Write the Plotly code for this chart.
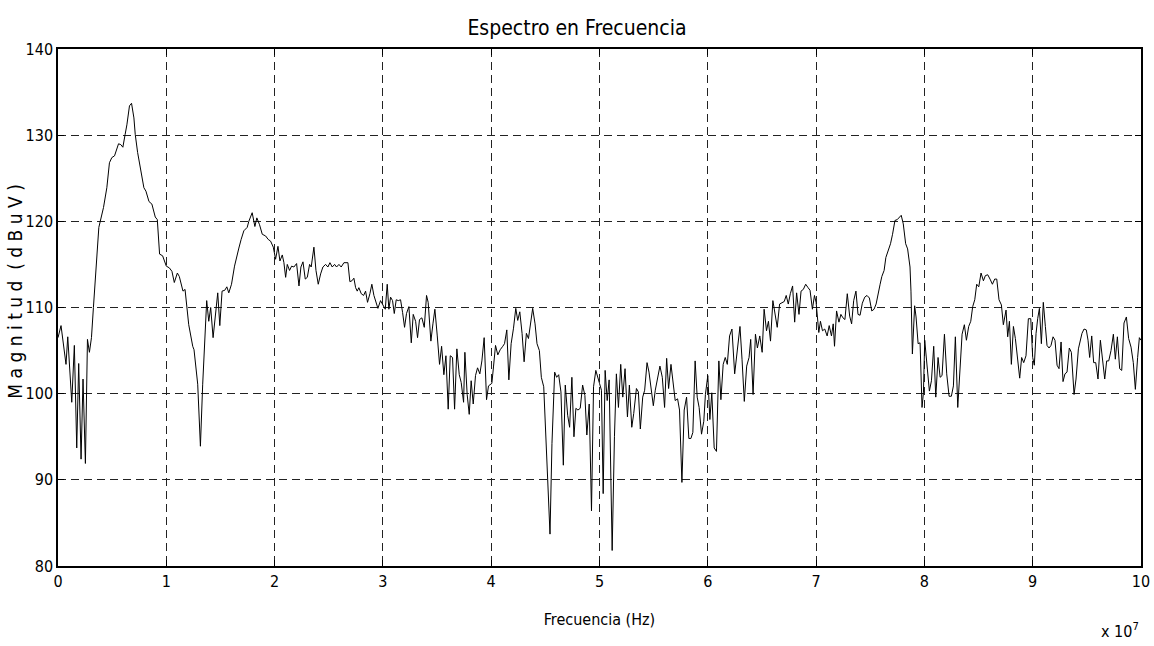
import plotly.graph_objects as go

# Frequency axis in units of 1e7 Hz, magnitude in dBuV
freq = [
    0.000, 0.028, 0.074, 0.090, 0.127, 0.151, 0.173, 0.191, 0.213, 0.231, 0.253, 0.272, 0.290, 0.309,
    0.327, 0.358, 0.377, 0.420, 0.451, 0.475, 0.497, 0.522, 0.537, 0.559, 0.580, 0.599, 0.620, 0.636,
    0.660, 0.679, 0.701, 0.713, 0.735, 0.756, 0.775, 0.793, 0.812, 0.840, 0.867, 0.898, 0.917, 0.938,
    0.966, 1.000, 1.028, 1.052, 1.074, 1.102, 1.120, 1.154, 1.173, 1.207, 1.244, 1.256, 1.290, 1.315,
    1.336, 1.373, 1.392, 1.410, 1.432, 1.454, 1.475, 1.494, 1.515, 1.540, 1.559, 1.577, 1.602, 1.630,
    1.654, 1.670, 1.691, 1.716, 1.747, 1.762, 1.793, 1.818, 1.836, 1.861, 1.886, 1.917, 1.941, 1.963,
    1.988, 2.009, 2.031, 2.049, 2.071, 2.086, 2.102, 2.117, 2.138, 2.157, 2.178, 2.203, 2.225, 2.243,
    2.262, 2.283, 2.302, 2.323, 2.338, 2.363, 2.382, 2.403, 2.425, 2.446, 2.471, 2.492, 2.511, 2.532,
    2.554, 2.572, 2.594, 2.615, 2.640, 2.677, 2.695, 2.714, 2.732, 2.748, 2.763, 2.778, 2.800, 2.822,
    2.840, 2.858, 2.880, 2.898, 2.917, 2.935, 2.954, 2.978, 2.997, 3.022, 3.040, 3.055, 3.071, 3.089,
    3.105, 3.123, 3.142, 3.163, 3.182, 3.200, 3.218, 3.240, 3.262, 3.280, 3.302, 3.320, 3.338, 3.360,
    3.382, 3.403, 3.418, 3.443, 3.462, 3.480, 3.502, 3.523, 3.542, 3.563, 3.582, 3.603, 3.622, 3.643,
    3.662, 3.683, 3.705, 3.723, 3.745, 3.757, 3.778, 3.797, 3.815, 3.834, 3.855, 3.874, 3.895, 3.914,
    3.935, 3.957, 3.975, 3.994, 4.006, 4.021, 4.040, 4.061, 4.083, 4.107, 4.123, 4.144, 4.163, 4.184,
    4.206, 4.227, 4.245, 4.264, 4.285, 4.304, 4.325, 4.344, 4.365, 4.383, 4.405, 4.423, 4.445, 4.463,
    4.485, 4.506, 4.543, 4.561, 4.586, 4.604, 4.623, 4.644, 4.666, 4.684, 4.706, 4.724, 4.745, 4.764,
    4.782, 4.801, 4.822, 4.844, 4.865, 4.883, 4.905, 4.926, 4.945, 4.966, 4.985, 5.000, 5.018, 5.034,
    5.052, 5.071, 5.089, 5.117, 5.138, 5.156, 5.175, 5.196, 5.215, 5.236, 5.258, 5.276, 5.298, 5.316,
    5.341, 5.359, 5.377, 5.399, 5.417, 5.439, 5.457, 5.475, 5.497, 5.515, 5.537, 5.558, 5.580, 5.601,
    5.620, 5.638, 5.660, 5.681, 5.699, 5.721, 5.739, 5.761, 5.782, 5.804, 5.825, 5.844, 5.862, 5.883,
    5.902, 5.920, 5.942, 5.963, 5.978, 6.000, 6.019, 6.037, 6.059, 6.080, 6.102, 6.121, 6.142, 6.161,
    6.180, 6.201, 6.223, 6.248, 6.272, 6.297, 6.316, 6.337, 6.359, 6.381, 6.396, 6.418, 6.440, 6.458,
    6.480, 6.502, 6.520, 6.542, 6.560, 6.579, 6.601, 6.619, 6.641, 6.663, 6.684, 6.706, 6.724, 6.743,
    6.762, 6.783, 6.802, 6.820, 6.842, 6.861, 6.882, 6.904, 6.926, 6.944, 6.966, 6.985, 7.000, 7.015,
    7.025, 7.040, 7.059, 7.080, 7.102, 7.121, 7.142, 7.158, 7.170, 7.189, 7.211, 7.229, 7.248, 7.266,
    7.288, 7.310, 7.328, 7.347, 7.368, 7.387, 7.406, 7.427, 7.449, 7.470, 7.492, 7.514, 7.535, 7.554,
    7.573, 7.591, 7.607, 7.628, 7.644, 7.666, 7.687, 7.706, 7.728, 7.749, 7.768, 7.786, 7.805, 7.827,
    7.845, 7.867, 7.876, 7.889, 7.910, 7.923, 7.942, 7.960, 7.978, 7.991, 8.003, 8.025, 8.046, 8.065,
    8.086, 8.105, 8.126, 8.145, 8.163, 8.185, 8.206, 8.228, 8.249, 8.268, 8.286, 8.308, 8.326, 8.348,
    8.369, 8.388, 8.409, 8.428, 8.446, 8.465, 8.483, 8.502, 8.523, 8.545, 8.563, 8.585, 8.606, 8.628,
    8.649, 8.668, 8.689, 8.711, 8.729, 8.754, 8.769, 8.785, 8.803, 8.822, 8.840, 8.858, 8.880, 8.898,
    8.917, 8.938, 8.960, 8.982, 9.000, 9.015, 9.031, 9.046, 9.062, 9.080, 9.098, 9.117, 9.132, 9.151,
    9.169, 9.188, 9.206, 9.225, 9.243, 9.262, 9.280, 9.298, 9.317, 9.338, 9.357, 9.382, 9.400, 9.422,
    9.437, 9.455, 9.474, 9.495, 9.511, 9.526, 9.545, 9.563, 9.582, 9.603, 9.625, 9.646, 9.665, 9.683,
    9.702, 9.723, 9.745, 9.763, 9.782, 9.803, 9.822, 9.843, 9.865, 9.886, 9.908, 9.929, 9.948, 9.969,
    9.985, 10.000,
]

magnitude = [
    106.5, 107.9, 103.4, 106.6, 99.0, 105.6, 93.7, 103.5, 92.4, 101.7, 91.9, 106.3, 104.8, 106.5,
    110.0, 116.5, 119.3, 121.6, 123.9, 126.8, 127.4, 127.6, 128.1, 129.0, 128.9, 128.6, 130.1, 131.2,
    133.4, 133.7, 132.0, 130.1, 128.0, 126.6, 125.1, 123.9, 123.5, 122.3, 122.0, 120.5, 120.2, 116.2,
    116.0, 114.8, 114.6, 114.2, 112.9, 114.0, 113.6, 111.9, 112.1, 108.0, 105.5, 105.1, 101.1, 93.9,
    101.1, 110.8, 108.4, 110.0, 106.5, 109.6, 111.7, 107.9, 111.9, 112.0, 112.4, 111.7, 112.7, 114.8,
    116.2, 116.9, 117.9, 118.9, 119.3, 120.0, 121.0, 119.4, 120.4, 119.6, 118.5, 118.3, 117.9, 117.7,
    117.0, 115.6, 117.1, 115.4, 116.1, 115.2, 113.5, 115.0, 114.3, 114.8, 114.7, 115.1, 112.5, 114.7,
    115.3, 113.3, 113.5, 115.0, 114.7, 117.0, 114.3, 112.7, 113.9, 114.7, 115.0, 114.7, 115.2, 114.7,
    115.0, 114.7, 115.0, 114.7, 115.2, 115.2, 113.0, 113.1, 113.4, 112.3, 111.9, 112.3, 111.6, 111.4,
    111.9, 110.6, 111.6, 112.7, 111.4, 110.6, 109.9, 110.8, 110.4, 109.8, 112.7, 109.8, 111.2, 110.8,
    109.3, 110.9, 110.8, 110.9, 109.4, 107.7, 109.3, 110.1, 105.9, 109.2, 108.4, 106.5, 108.6, 108.8,
    107.7, 111.4, 110.6, 106.1, 108.1, 109.8, 106.7, 103.4, 105.5, 102.2, 104.4, 98.2, 104.4, 104.2,
    98.2, 105.2, 102.2, 101.3, 99.0, 104.8, 99.9, 97.6, 101.5, 98.8, 102.1, 103.0, 102.3, 103.8,
    106.5, 99.3, 100.9, 101.1, 101.2, 103.1, 105.6, 104.5, 105.1, 105.5, 105.8, 107.4, 101.6, 105.8,
    107.6, 109.9, 108.5, 109.5, 107.0, 103.7, 107.0, 106.4, 108.5, 109.9, 108.1, 105.8, 105.0, 101.9,
    100.8, 94.6, 83.7, 94.2, 102.5, 101.9, 102.2, 100.2, 91.7, 101.0, 97.5, 96.1, 101.9, 95.0,
    98.3, 98.1, 98.3, 101.0, 99.8, 95.2, 98.8, 86.4, 100.8, 102.7, 102.0, 101.2, 100.4, 88.4,
    102.7, 99.2, 101.6, 81.8, 95.0, 102.3, 98.4, 103.4, 99.6, 102.9, 97.3, 101.0, 96.1, 97.7,
    100.6, 100.2, 95.9, 99.6, 100.4, 103.6, 102.5, 100.4, 98.6, 100.4, 101.9, 103.2, 101.9, 98.4,
    104.1, 100.6, 103.4, 101.0, 99.2, 99.4, 98.1, 89.7, 98.1, 99.6, 94.8, 94.8, 95.5, 103.8,
    99.6, 98.4, 95.3, 96.8, 99.9, 102.1, 97.0, 100.1, 93.7, 93.3, 103.8, 99.3, 103.4, 104.2,
    103.4, 106.7, 107.5, 102.3, 105.3, 107.8, 104.0, 99.1, 103.2, 104.2, 106.3, 99.9, 106.9, 105.3,
    106.7, 104.8, 109.8, 107.3, 108.4, 106.1, 110.8, 109.2, 107.7, 110.4, 110.6, 110.7, 111.4, 110.4,
    111.6, 112.5, 108.3, 111.7, 109.2, 111.9, 112.1, 112.7, 112.3, 112.0, 109.8, 111.4, 110.6, 108.4,
    107.1, 108.4, 107.3, 107.5, 106.7, 107.9, 106.7, 108.1, 105.5, 109.6, 108.3, 109.2, 108.8, 108.6,
    111.6, 109.0, 108.1, 110.8, 111.9, 109.2, 109.1, 110.5, 111.2, 111.4, 111.1, 109.6, 109.8, 110.4,
    111.4, 112.7, 113.6, 114.3, 115.8, 116.6, 117.4, 118.5, 120.1, 120.2, 120.5, 120.7, 119.7, 117.4,
    116.8, 114.7, 111.9, 104.6, 110.2, 108.9, 105.8, 105.9, 98.4, 100.1, 106.2, 102.7, 100.3, 101.5,
    105.5, 99.6, 104.2, 101.9, 102.1, 106.9, 102.3, 99.7, 99.7, 100.9, 106.6, 98.4, 102.7, 106.9,
    108.0, 106.2, 107.8, 108.4, 110.1, 110.9, 112.7, 112.4, 114.0, 113.1, 113.7, 113.8, 113.3, 112.7,
    113.3, 113.3, 110.9, 110.3, 108.0, 109.7, 106.6, 108.4, 103.4, 107.8, 106.4, 104.2, 101.8, 104.2,
    103.6, 104.4, 108.7, 108.7, 104.2, 103.3, 107.0, 108.7, 109.9, 105.8, 110.6, 107.8, 105.6, 105.3,
    105.6, 106.6, 106.2, 103.3, 102.9, 106.0, 101.4, 102.3, 102.5, 105.3, 104.8, 99.9, 101.7, 105.2,
    106.2, 107.0, 107.5, 107.4, 106.2, 104.2, 106.7, 103.6, 103.6, 101.7, 106.2, 103.8, 101.7, 103.8,
    103.8, 105.0, 106.9, 104.0, 106.6, 102.9, 102.7, 108.2, 108.9, 106.4, 105.4, 103.6, 100.5, 104.2,
    106.5, 106.2,
]

x_ticks = [0, 1, 2, 3, 4, 5, 6, 7, 8, 9, 10]
y_ticks = [80, 90, 100, 110, 120, 130, 140]

FONT = "DejaVu Sans Condensed, Liberation Sans Narrow, Arial Narrow, sans-serif"

fig = go.Figure()
fig.add_trace(go.Scatter(
    x=freq, y=magnitude, mode="lines",
    line=dict(color="black", width=1),
    hoverinfo="skip", showlegend=False,
))

axis_common = dict(
    showgrid=True, gridcolor="#222222", gridwidth=1, griddash="8px,5px",
    zeroline=False, showline=True, linecolor="black", linewidth=1.5,
    mirror="allticks", ticks="inside", ticklen=6, tickcolor="black",
    automargin=False,
    tickfont=dict(family=FONT, size=16, color="black"),
)

fig.update_xaxes(
    range=[0, 10], tickvals=x_ticks, ticktext=[str(t) for t in x_ticks],
    title=dict(text="Frecuencia (Hz)", font=dict(family=FONT, size=16, color="black"), standoff=24),
    **axis_common,
)
fig.update_yaxes(
    range=[80, 140], tickvals=y_ticks, ticktext=[str(t) for t in y_ticks],
    **axis_common,
)

fig.update_layout(
    width=1154, height=646,
    margin=dict(l=58, r=13, t=49, b=80),
    paper_bgcolor="white", plot_bgcolor="white",
    title=dict(text="Espectro en Frecuencia", x=0.5, xref="container", y=0.957, yref="container",
               xanchor="center", yanchor="middle",
               font=dict(family=FONT, size=21, color="black")),
    annotations=[
        dict(
            text="x 10<sup>7</sup>", xref="paper", yref="paper", x=1.0, y=-0.148,
            xanchor="right", yanchor="bottom", showarrow=False,
            font=dict(family=FONT, size=16, color="black"),
        ),
        dict(
            text="M a g n i t u d  ( d B u V )", xref="paper", yref="paper",
            x=-0.040, y=0.53, xanchor="center", yanchor="middle", textangle=-90,
            showarrow=False, font=dict(family=FONT, size=19, color="black"),
        ),
    ],
)

fig.write_html("out.html")
